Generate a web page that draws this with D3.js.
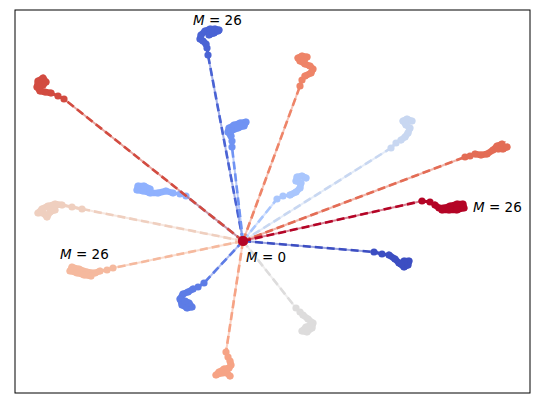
<!DOCTYPE html>
<html>
<head>
<meta charset="utf-8">
<script src="https://cdn.jsdelivr.net/npm/d3@7"></script>
<style>
  body { margin: 0; background: #fff; }
  text { font-family: "DejaVu Sans", sans-serif; font-size: 13.5px; }
</style>
</head>
<body>
<svg id="chart"></svg>
<script>
// trajectories, M = 0 at the origin, then the steps out to M = 26
const trajDarkBlueA = [[0,0],[-0.35,1.86],[-0.36,1.93],[-0.37,1.97],[-0.40,2.00],[-0.43,2.02],[-0.42,2.06],[-0.38,2.10],[-0.33,2.12],[-0.28,2.12],[-0.24,2.11],[-0.29,2.08],[-0.34,2.06],[-0.30,2.08],[-0.25,2.10]];
const trajDarkBlueB = [[0,0],[1.31,-0.11],[1.39,-0.13],[1.46,-0.14],[1.52,-0.18],[1.56,-0.22],[1.61,-0.26],[1.65,-0.24],[1.66,-0.20],[1.61,-0.20],[1.58,-0.23]];
const trajBlueA = [[0,0],[-0.39,-0.42],[-0.45,-0.46],[-0.50,-0.48],[-0.55,-0.51],[-0.60,-0.53],[-0.63,-0.58],[-0.61,-0.64],[-0.56,-0.67],[-0.51,-0.66],[-0.54,-0.62],[-0.58,-0.60]];
const trajBlueB = [[0,0],[-0.11,0.94],[-0.11,1.00],[-0.12,1.05],[-0.15,1.09],[-0.14,1.13],[-0.09,1.16],[-0.03,1.18],[0.03,1.19],[0.01,1.15],[-0.05,1.13],[-0.12,1.10]];
const trajLightBlueA = [[0,0],[-0.57,0.45],[-0.63,0.47],[-0.70,0.48],[-0.77,0.50],[-0.85,0.48],[-0.93,0.48],[-1.00,0.50],[-1.06,0.51],[-1.05,0.55],[-0.99,0.55],[-0.93,0.52]];
const trajLightBlueB = [[0,0],[0.34,0.42],[0.40,0.45],[0.47,0.46],[0.53,0.49],[0.57,0.53],[0.58,0.58],[0.53,0.60],[0.54,0.64],[0.59,0.65],[0.63,0.63]];
const trajPaleBlue = [[0,0],[1.48,0.93],[1.53,0.98],[1.58,1.01],[1.62,1.04],[1.65,1.08],[1.67,1.13],[1.63,1.16],[1.60,1.20],[1.64,1.22],[1.69,1.20]];
const trajGrey = [[0,0],[0.53,-0.67],[0.57,-0.71],[0.60,-0.74],[0.65,-0.78],[0.70,-0.82],[0.69,-0.87],[0.64,-0.91],[0.59,-0.90],[0.63,-0.86],[0.68,-0.84]];
const trajPalePeach = [[0,0],[-1.61,0.32],[-1.71,0.34],[-1.81,0.36],[-1.88,0.37],[-1.95,0.35],[-2.01,0.32],[-2.05,0.28],[-2.00,0.28],[-1.96,0.24],[-1.93,0.29],[-1.88,0.31]];
const trajPeach = [[0,0],[-1.30,-0.27],[-1.36,-0.29],[-1.43,-0.30],[-1.48,-0.32],[-1.56,-0.31],[-1.64,-0.28],[-1.71,-0.26],[-1.73,-0.30],[-1.66,-0.32],[-1.59,-0.34],[-1.52,-0.35]];
const trajSalmon = [[0,0],[-0.17,-1.11],[-0.15,-1.16],[-0.13,-1.20],[-0.12,-1.24],[-0.14,-1.27],[-0.19,-1.28],[-0.24,-1.31],[-0.27,-1.34],[-0.21,-1.32],[-0.16,-1.32],[-0.13,-1.35]];
const trajOrange = [[0,0],[0.57,1.55],[0.59,1.61],[0.62,1.65],[0.68,1.68],[0.70,1.72],[0.67,1.75],[0.62,1.77],[0.57,1.80],[0.55,1.83],[0.59,1.85],[0.64,1.84],[0.61,1.81]];
const trajOrangeRed = [[0,0],[2.22,0.84],[2.27,0.85],[2.32,0.87],[2.38,0.86],[2.44,0.87],[2.50,0.91],[2.54,0.95],[2.59,0.97],[2.55,0.92],[2.60,0.92],[2.64,0.94]];
const trajRed = [[0,0],[-1.79,1.42],[-1.85,1.45],[-1.92,1.48],[-1.98,1.49],[-2.03,1.50],[-2.06,1.54],[-2.05,1.60],[-2.00,1.63],[-1.97,1.59],[-2.00,1.56],[-2.04,1.55]];
const trajDarkRed = [[0,0],[1.79,0.40],[1.87,0.39],[1.92,0.36],[1.96,0.33],[2.01,0.33],[2.07,0.35],[2.14,0.37],[2.20,0.37],[2.21,0.33],[2.14,0.31],[2.06,0.31],[1.99,0.31]];

// drawn blue -> red, so the dark red ends up on top at the origin
const trajectories = [trajDarkBlueB, trajDarkBlueA, trajBlueA, trajBlueB, trajLightBlueA,
  trajLightBlueB, trajPaleBlue, trajGrey, trajPalePeach, trajPeach, trajSalmon,
  trajOrange, trajOrangeRed, trajRed, trajDarkRed];
const colors = ['#3c4ec2', '#4a63d4', '#5d7ce6', '#7093f3', '#8fb1fe',
  '#a9c6fd', '#c8d7f1', '#dddcdc', '#efcfbf', '#f5b99e', '#f6a385',
  '#ee8468', '#e36c55', '#d24b40', '#b40426'];

const labels = [
  { text: '26', x: -0.50, y: 2.16 },
  { text: '26', x: 2.30, y: 0.29 },
  { text: '26', x: -1.83, y: -0.18 },
  { text: '0', x: 0.03, y: -0.21 }
];

const width = 540, height = 409;
const margin = { top: 10, right: 10, bottom: 16, left: 15 };

const svg = d3.select('#chart').attr('width', width).attr('height', height);

const x = d3.scaleLinear().domain([-2.28, 2.87]).range([margin.left, width - margin.right]);
const y = d3.scaleLinear().domain([-1.52, 2.31]).range([height - margin.bottom, margin.top]);

const line = d3.line().x(d => x(d[0])).y(d => y(d[1]));

const g = svg.append('g');

trajectories.forEach((pts, i) => {
  const c = colors[i];
  const tg = g.append('g');
  // faint solid line beside the dashed one
  tg.append('path').attr('d', line(pts))
    .attr('fill', 'none').attr('stroke', c).attr('stroke-width', 2).attr('opacity', 0.5);
  tg.append('path').attr('d', line(pts))
    .attr('fill', 'none').attr('stroke', c).attr('stroke-width', 2.6)
    .attr('stroke-dasharray', '8,4');
  // beads: thinner link between the first outer points
  tg.append('path').attr('d', line(pts.slice(1, 4)))
    .attr('fill', 'none').attr('stroke', c).attr('stroke-width', 3);
  // the curl at the end: thick and dense
  tg.append('path').attr('d', line(pts.slice(3)))
    .attr('fill', 'none').attr('stroke', c).attr('stroke-width', 6.5)
    .attr('stroke-linejoin', 'round').attr('stroke-linecap', 'round');
  tg.selectAll('circle').data(pts).enter().append('circle')
    .attr('cx', d => x(d[0])).attr('cy', d => y(d[1]))
    .attr('r', (d, j) => j === 0 ? 5 : 3.6)
    .attr('fill', c);
});

// labels
const lab = svg.append('g').selectAll('text').data(labels).enter().append('text')
  .attr('x', d => x(d.x)).attr('y', d => y(d.y)).attr('fill', '#000');
lab.append('tspan').attr('font-style', 'italic').text('M');
lab.append('tspan').text(d => ' = ' + d.text);

// axes frame, no ticks
svg.append('rect')
  .attr('x', margin.left).attr('y', margin.top)
  .attr('width', width - margin.left - margin.right)
  .attr('height', height - margin.bottom - margin.top)
  .attr('fill', 'none').attr('stroke', '#000').attr('stroke-width', 1);
</script>
</body>
</html>
